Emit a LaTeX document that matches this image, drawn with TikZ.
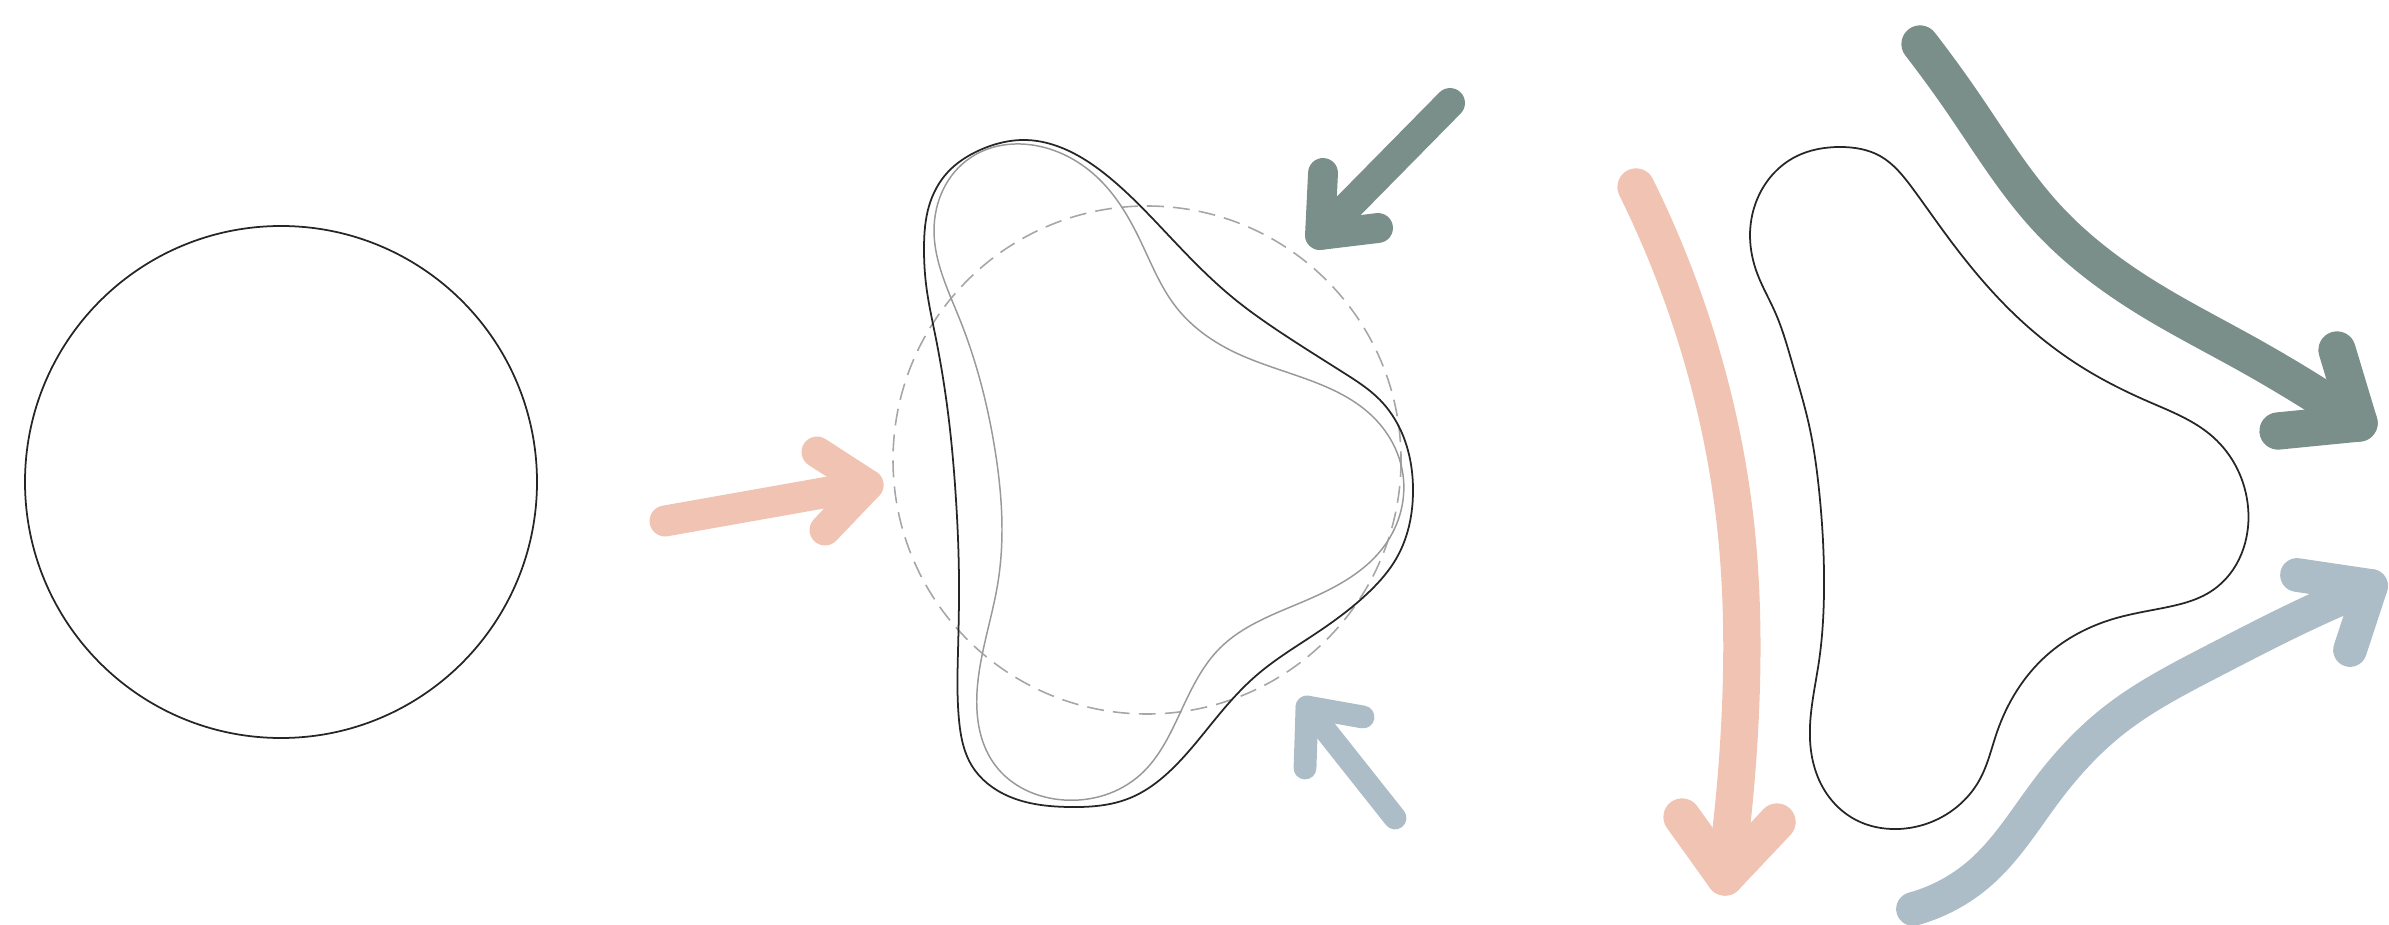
\documentclass[tikz,border=0pt]{standalone}
\usetikzlibrary{hobby}
\definecolor{salmon}{HTML}{F0C3B3}
\definecolor{sage}{HTML}{7A8F8A}
\definecolor{steel}{HTML}{ACBDC7}
\begin{document}
\begin{tikzpicture}[x=0.01cm,y=-0.01cm,
  outline/.style={draw=black!85, line width=0.5pt},
  innerline/.style={draw=black!40, line width=0.42pt},
  guide/.style={draw=black!35, line width=0.45pt, dash pattern=on 4.8pt off 2.6pt},
  fat/.style={line cap=round, line join=round}]
\useasboundingbox (0,0) rectangle (2389,925);

% left circle
\draw[outline] (281,482) circle[radius=256];

% middle: dashed guide circle
\draw[guide] (1147,460) circle[radius=254];

% middle: outer blob
\draw[outline] plot[closed hobby] coordinates {
 (1026,140) (1069,151) (1110,178) (1171,238) (1232,297) (1283,334)
 (1344,373) (1380,400) (1401,431) (1413,490) (1396,559) (1370,591)
 (1318,632) (1258,674) (1222,711) (1171,770) (1130,798) (1069,807)
 (1008,796) (972,766) (959,720) (958,651) (959,582) (956,500)
 (949,421) (936,339) (926,284) (924,247) (929,206) (947,173) (980,150)};

% middle: inner blob
\draw[innerline] plot[closed hobby] coordinates {
 (1038,146) (1100,180) (1140,240) (1176,307) (1230,350) (1309,380)
 (1370,414) (1403,475) (1385,545) (1300,603) (1220,648) (1181,711)
 (1140,775) (1064,800) (995,765) (977,692) (998,582) (995,450)
 (960,320) (934,230) (970,158)};

% middle arrows
\coordinate (sT) at (665,521); \coordinate (sP) at (868,485);
\coordinate (sA) at (817,452); \coordinate (sB) at (825,530);
\draw[fat, salmon, line width=8.8pt] (sT) -- (sP);
\draw[fat, salmon, line width=8.8pt] (sA) -- (sP) -- (sB);

\coordinate (gT) at (1450,103); \coordinate (gP) at (1320,235);
\coordinate (gA) at (1323,173); \coordinate (gB) at (1378,228);
\draw[fat, sage, line width=8.5pt] (gT) -- (gP);
\draw[fat, sage, line width=8.5pt] (gA) -- (gP) -- (gB);

\coordinate (bT) at (1395,818); \coordinate (bP) at (1307,707);
\coordinate (bA) at (1305,768); \coordinate (bB) at (1363,717);
\draw[fat, steel, line width=6.5pt] (bT) -- (bP);
\draw[fat, steel, line width=6.5pt] (bA) -- (bP) -- (bB);

% right: blob
\draw[outline] plot[closed hobby] coordinates {
 (1840,147) (1880,156) (1913,189) (1947,236) (2013,313) (2080,366)
 (2147,401) (2213,437) (2248,507) (2213,590) (2163,608) (2113,619)
 (2047,655) (1997,732) (1980,779) (1947,814) (1898,829) (1856,820)
 (1822,786) (1810,740) (1819,661) (1824,590) (1819,490) (1809,425)
 (1793,366) (1775,312) (1757,273) (1750,237) (1760,193) (1795,157)};

% right arrows
\coordinate (rsP) at (1725,877); \coordinate (rsA) at (1682,817); \coordinate (rsB) at (1777,822);
\draw[fat, salmon, line width=10.6pt] plot[hobby] coordinates {
 (1636,187) (1697,340) (1735,520) (1740,720) (rsP)};
\draw[fat, salmon, line width=10.6pt] (rsA) -- (rsP) -- (rsB);

\coordinate (rgP) at (2359,423); \coordinate (rgA) at (2337,350); \coordinate (rgB) at (2278,431);
\draw[fat, sage, line width=10.6pt] plot[hobby] coordinates {
 (1920,44) (1963,103) (2047,218) (2147,298) (2247,354) (rgP)};
\draw[fat, sage, line width=10.6pt] (rgA) -- (rgP) -- (rgB);

\coordinate (rbP) at (2371,586); \coordinate (rbA) at (2297,575); \coordinate (rbB) at (2350,650);
\draw[fat, steel, line width=9.6pt] plot[hobby] coordinates {
 (1913,909) (1980,873) (2047,790) (2113,721) (2213,661) (2313,611) (rbP)};
\draw[fat, steel, line width=9.6pt] (rbA) -- (rbP) -- (rbB);
\end{tikzpicture}
\end{document}
